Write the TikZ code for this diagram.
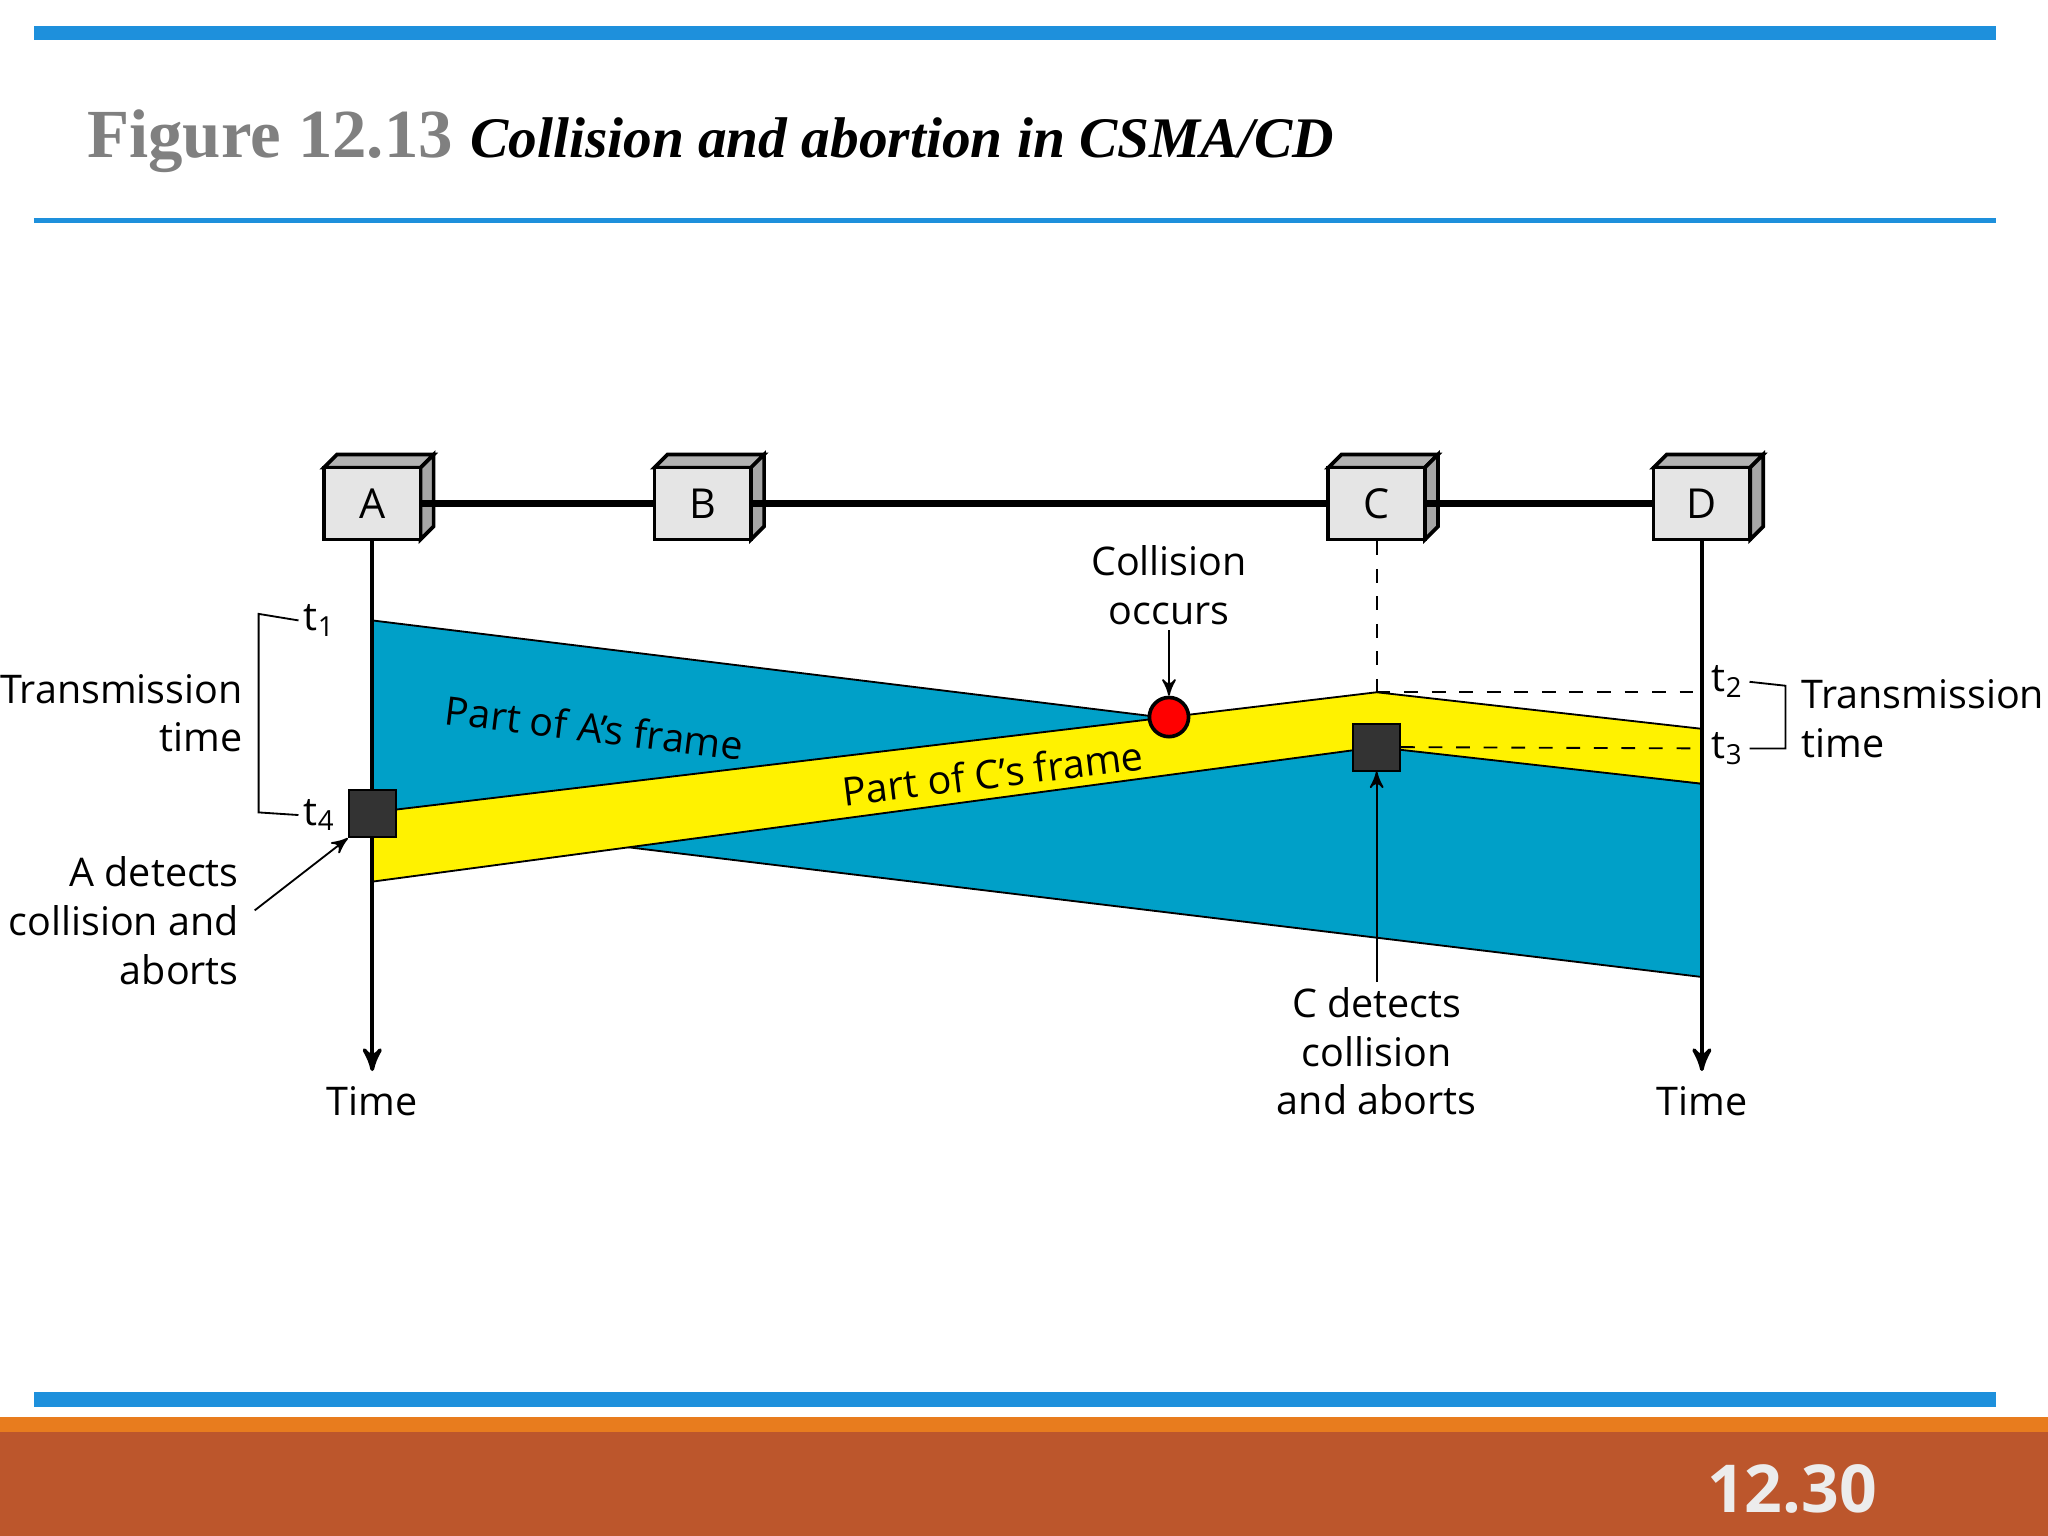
\documentclass[tikz,border=0pt]{standalone}
\usepackage{fontspec}
\setmainfont{Liberation Serif}
\setsansfont{Open Sans}
\usetikzlibrary{arrows}
\definecolor{barblue}{RGB}{30,144,220}
\definecolor{frameblue}{RGB}{0,160,200}
\definecolor{rust}{RGB}{188,86,44}
\definecolor{orangeline}{RGB}{232,124,30}
\tikzset{
  station/.style={draw,thick,fill=gray!20,minimum width=7.4mm,minimum height=5.5mm,inner sep=0pt,font=\sffamily\small},
  lbl/.style={font=\sffamily\fontsize{8.6}{10.6}\selectfont,align=center,inner sep=1pt},
  detect/.style={draw,fill=black!80,minimum size=3.6mm,inner sep=0pt}
}
\begin{document}
\begin{tikzpicture}[x=0.1mm,y=-0.1mm,>=stealth']
  \useasboundingbox (0,0) rectangle (1568,1176);
  % frame of the slide
  \fill[barblue] (26,20) rectangle (1528,31);
  \draw[barblue,line width=1.2pt] (26,169) -- (1528,169);
  \fill[barblue] (26,1066) rectangle (1528,1077);
  \fill[orangeline] (0,1085) rectangle (1568,1096);
  \fill[rust] (0,1096) rectangle (1568,1176);
  \node[anchor=west,inner sep=0pt] (title) at (66,108)
    {\fontsize{15}{18}\selectfont\bfseries\color{gray}Figure 12.13 \color{black}\fontsize{12.5}{15}\selectfont\itshape Collision and abortion in CSMA/CD};
  \node[font=\sffamily\bfseries\Large,text=gray!15] (page) at (1372,1140) {12.30};
  % stations
  \foreach \n/\x in {A/285,B/538,C/1054,D/1303}{
    \fill[gray!60,draw=black,thick] (\x-37,358) -- (\x-27,348) -- (\x+47,348) -- (\x+37,358) -- cycle;
    \fill[gray!70,draw=black,thick] (\x+37,358) -- (\x+47,348) -- (\x+47,403) -- (\x+37,413) -- cycle;
    \node[station] (\n) at (\x,385.5) {\n};
  }
  \draw[line width=1.6pt] (A) -- (B) -- (C) -- (D);
  % frames
  \fill[frameblue,draw=black] (285,475) -- (1303,600) -- (1303,748) -- (285,625) -- cycle;
  \fill[yellow,draw=black] (285,622) -- (1054,530) -- (1303,558) -- (1303,600) -- (1054,572) -- (285,675) -- cycle;
  \node[lbl,rotate=-7] (aframe) at (455,557) {Part of A’s frame};
  \node[lbl,rotate=7] (cframe) at (760,592) {Part of C’s frame};
  % time axes
  \coordinate (atime) at (285,820);
  \coordinate (dtime) at (1303,820);
  \draw[->,thick] (A) -- (atime);
  \draw[->,thick] (D) -- (dtime);
  \draw[dashed] (C) -- (1054,530);
  \node[lbl] at (285,843) {Time};
  \node[lbl] at (1303,843) {Time};
  % collision
  \node[circle,draw=black,thick,fill=red,minimum size=3mm,inner sep=0pt] (coll) at (895,549) {};
  \node[lbl] (colltxt) at (895,448) {Collision\\occurs};
  \draw[->] (colltxt) -- (coll);
  \node[detect] (adet) at (285,623) {};
  \node[detect] (cdet) at (1054,572) {};
  \draw[dashed] (1054,530) -- (1303,530);
  \draw[dashed] (cdet.east) -- (1303,573);
  % time marks
  \node[lbl] (t1) at (245,475) {t\textsubscript{1}};
  \node[lbl] (t4) at (245,624) {t\textsubscript{4}};
  \node[lbl] (t2) at (1323,522) {t\textsubscript{2}};
  \node[lbl] (t3) at (1323,573) {t\textsubscript{3}};
  \draw (t1.west) -- (198,470) -- (198,622) -- (t4.west);
  \draw (t2.east) -- (1367,525) -- (1367,573) -- (t3.east);
  \node[lbl,align=right,anchor=east] (lefttx) at (190,546) {Transmission\\time};
  \node[lbl,align=left,anchor=west] (righttx) at (1375,550) {Transmission\\time};
  % detection labels
  \node[lbl,align=right,anchor=east] (atxt) at (187,705) {A detects\\collision and\\aborts};
  \node[lbl] (ctxt) at (1054,805) {C detects\\collision\\and aborts};
  \draw[->] (195,697) -- (adet.south west);
  \draw[->] (ctxt) -- (cdet);
\end{tikzpicture}
\end{document}
